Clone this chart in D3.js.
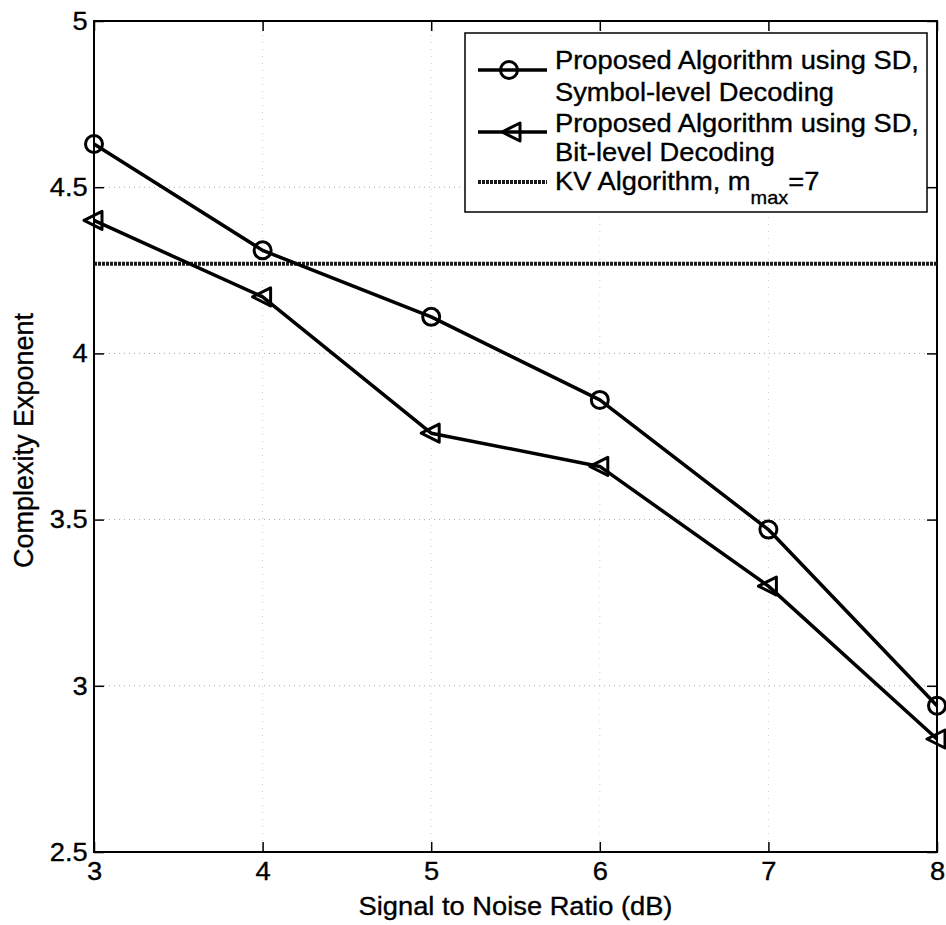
<!DOCTYPE html>
<html><head><meta charset="utf-8">
<script src="https://cdn.jsdelivr.net/npm/d3@7"></script>
<style>
body{margin:0;background:#fff;}
text{font-family:"Liberation Sans",Arial,Helvetica,sans-serif;fill:#000;stroke:#000;stroke-width:0.35px;}
</style></head>
<body>
<svg id="chart" width="946" height="925"></svg>
<script>
const snr = [3, 4, 5, 6, 7, 8];
const symbolLevel = [4.63, 4.31, 4.11, 3.86, 3.47, 2.94];
const bitLevel = [4.40, 4.17, 3.76, 3.66, 3.30, 2.84];
const kvLevel = 4.27;
const xTicks = [3, 4, 5, 6, 7, 8];
const yTicks = [2.5, 3, 3.5, 4, 4.5, 5];
const legendLabels = [
  ["Proposed Algorithm using SD,", "Symbol-level Decoding"],
  ["Proposed Algorithm using SD,", "Bit-level Decoding"],
  ["KV Algorithm, m", "max", "=7"]
];
const xLabel = "Signal to Noise Ratio (dB)";
const yLabel = "Complexity Exponent";

const W = 946, H = 925;
const m = {left: 94, top: 21, right: 9, bottom: 73};
const iw = W - m.left - m.right, ih = H - m.top - m.bottom;
const SX = 1.05, FS = 26;

const svg = d3.select("#chart");
const g = svg.append("g").attr("transform", `translate(${m.left},${m.top})`);
const x = d3.scaleLinear().domain([3, 8]).range([0, iw]);
const y = d3.scaleLinear().domain([2.5, 5]).range([ih, 0]);

// grid
g.append("g").selectAll("line.gy").data(yTicks.slice(1, -1)).join("line")
  .attr("x1", 0).attr("x2", iw).attr("y1", d => y(d)).attr("y2", d => y(d))
  .attr("stroke", "#aaa").attr("stroke-width", 1).attr("stroke-dasharray", "1,4");
g.append("g").selectAll("line.gx").data(xTicks.slice(1, -1)).join("line")
  .attr("y1", 0).attr("y2", ih).attr("x1", d => x(d)).attr("x2", d => x(d))
  .attr("stroke", "#ccc").attr("stroke-width", 1).attr("stroke-dasharray", "1,6");

// axes
function styleAxis(sel) {
  sel.select(".domain").remove();
  sel.selectAll(".tick line").attr("stroke", "#000").attr("stroke-width", 1.5);
  sel.selectAll(".tick text").attr("font-size", FS).attr("fill", "#000")
    .attr("font-family", "Liberation Sans, Arial, sans-serif")
    .attr("transform", `scale(${SX},1)`);
}
g.append("g").attr("transform", `translate(0,${ih})`)
  .call(d3.axisBottom(x).tickValues(xTicks).tickFormat(d3.format("d")).tickSizeInner(-10).tickSizeOuter(0).tickPadding(10))
  .call(styleAxis);
g.append("g")
  .call(d3.axisLeft(y).tickValues(yTicks).tickFormat(d => d3.format("")(d)).tickSizeInner(-10).tickSizeOuter(0).tickPadding(6))
  .call(styleAxis);
g.append("g")
  .call(d3.axisTop(x).tickValues(xTicks).tickFormat("").tickSizeInner(-10).tickSizeOuter(0))
  .call(styleAxis);
g.append("g").attr("transform", `translate(${iw},0)`)
  .call(d3.axisRight(y).tickValues(yTicks).tickFormat("").tickSizeInner(-10).tickSizeOuter(0))
  .call(styleAxis);
g.append("rect").attr("x", 0).attr("y", 0).attr("width", iw).attr("height", ih)
  .attr("fill", "none").attr("stroke", "#000").attr("stroke-width", 2);

// KV line
g.append("line").attr("x1", 0).attr("x2", iw).attr("y1", y(kvLevel)).attr("y2", y(kvLevel))
  .attr("stroke", "#1a1a1a").attr("stroke-width", 4).attr("stroke-dasharray", "3,1");

const line = d3.line().x((d, i) => x(snr[i])).y(d => y(d));
const triPath = "M-10,0L8,-9L8,9Z";

g.append("path").datum(bitLevel).attr("d", line)
  .attr("fill", "none").attr("stroke", "#000").attr("stroke-width", 3.5).attr("stroke-linejoin", "round");
g.append("path").datum(symbolLevel).attr("d", line)
  .attr("fill", "none").attr("stroke", "#000").attr("stroke-width", 3.5).attr("stroke-linejoin", "round");

g.append("g").selectAll("circle").data(symbolLevel).join("circle")
  .attr("cx", (d, i) => x(snr[i])).attr("cy", d => y(d)).attr("r", 8.5)
  .attr("fill", "none").attr("stroke", "#000").attr("stroke-width", 3);
g.append("g").selectAll("path").data(bitLevel).join("path")
  .attr("d", triPath).attr("transform", (d, i) => `translate(${x(snr[i])},${y(d)})`)
  .attr("fill", "none").attr("stroke", "#000").attr("stroke-width", 3).attr("stroke-linejoin", "round");

// axis labels
function stxt(parent, tx, ty, str, anchor) {
  return parent.append("text")
    .attr("transform", `translate(${tx},${ty}) scale(${SX},1)`)
    .attr("text-anchor", anchor).attr("font-size", FS).text(str);
}
stxt(svg, m.left + iw / 2, 915, xLabel, "middle");
svg.append("text").attr("transform", `translate(33,${m.top + ih / 2 + 4}) rotate(-90)`)
  .attr("text-anchor", "middle").attr("font-size", 27).text(yLabel);

// legend
const lg = svg.append("g");
lg.append("rect").attr("x", 465).attr("y", 33).attr("width", 462).attr("height", 179)
  .attr("fill", "#fff").attr("stroke", "#000").attr("stroke-width", 1.5);
const tx0 = 555;
const baselines = [69, 101, 132, 161, 190];
stxt(lg, tx0, baselines[0], legendLabels[0][0], "start");
stxt(lg, tx0, baselines[1], legendLabels[0][1], "start");
stxt(lg, tx0, baselines[2], legendLabels[1][0], "start");
stxt(lg, tx0, baselines[3], legendLabels[1][1], "start");
const kv = lg.append("text").attr("transform", `translate(${tx0},${baselines[4]}) scale(${SX},1)`).attr("font-size", FS);
kv.append("tspan").text(legendLabels[2][0]);
kv.append("tspan").attr("dy", 14).attr("font-size", 19).text(legendLabels[2][1]);
kv.append("tspan").attr("dy", -14).text(legendLabels[2][2]);

lg.append("line").attr("x1", 478).attr("x2", 547).attr("y1", 70).attr("y2", 70)
  .attr("stroke", "#000").attr("stroke-width", 3.5);
lg.append("circle").attr("cx", 509).attr("cy", 70).attr("r", 8.5)
  .attr("fill", "none").attr("stroke", "#000").attr("stroke-width", 3);
lg.append("line").attr("x1", 478).attr("x2", 547).attr("y1", 132).attr("y2", 132)
  .attr("stroke", "#000").attr("stroke-width", 3.5);
lg.append("path").attr("d", triPath).attr("transform", "translate(512,132)")
  .attr("fill", "none").attr("stroke", "#000").attr("stroke-width", 3).attr("stroke-linejoin", "round");
lg.append("line").attr("x1", 478).attr("x2", 547).attr("y1", 182).attr("y2", 182)
  .attr("stroke", "#1a1a1a").attr("stroke-width", 4).attr("stroke-dasharray", "3,1");
</script>
</body></html>
